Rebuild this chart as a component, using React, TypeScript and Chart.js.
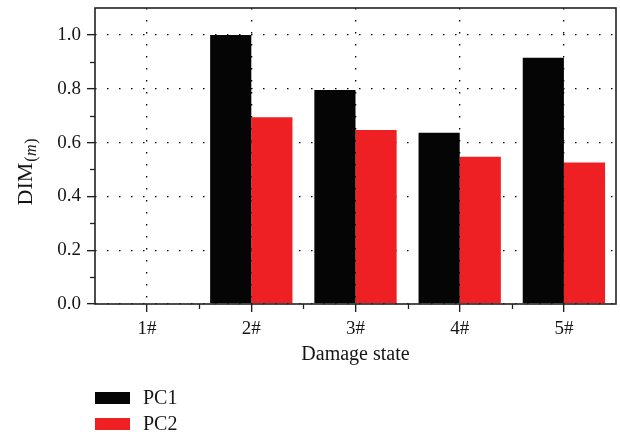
import React, { useEffect, useRef } from "react";
import { Chart, registerables } from "chart.js";

Chart.register(...registerables);

const categories = ["1#", "2#", "3#", "4#", "5#"];
const seriesNames = ["PC1", "PC2"];
const pc1Values = [0, 1.0, 0.795, 0.636, 0.915];
const pc2Values = [0, 0.694, 0.647, 0.547, 0.526];
const seriesColors = ["#050505", "#ee2024"];
const yMinorTicks = [0.1, 0.3, 0.5, 0.7, 0.9];
const yMin = 0;
const yMax = 1.1;
const yStep = 0.2;
const xTitle = "Damage state";
const yTitleMain = "DIM";
const yTitleSub = "m";

const FAMILY = '"Liberation Serif", "Times New Roman", serif';
const TEXT = "#151515";
const FRAME = "#222222";

const decorPlugin = {
  id: "decor",
  afterDatasetsDraw(chart: any) {
    const { ctx, chartArea } = chart;
    const { left, right, top, bottom } = chartArea;
    ctx.save();
    ctx.strokeStyle = FRAME;
    ctx.lineWidth = 1.6;
    ctx.setLineDash([]);
    ctx.strokeRect(left, top, right - left, bottom - top);
    ctx.restore();
  },
  afterDraw(chart: any) {
    const { ctx, chartArea } = chart;
    const xs = chart.scales.x;
    const ys = chart.scales.y;
    ctx.save();
    ctx.strokeStyle = FRAME;
    ctx.lineWidth = 1.3;
    ctx.setLineDash([]);
    yMinorTicks.forEach((v) => {
      const py = Math.round(ys.getPixelForValue(v)) + 0.5;
      ctx.beginPath();
      ctx.moveTo(chartArea.left - 5, py);
      ctx.lineTo(chartArea.left, py);
      ctx.stroke();
    });
    for (let i = 1; i < categories.length; i++) {
      const px = (xs.getPixelForValue(i - 1) + xs.getPixelForValue(i)) / 2;
      const rx = Math.round(px) + 0.5;
      ctx.beginPath();
      ctx.moveTo(rx, chartArea.bottom);
      ctx.lineTo(rx, chartArea.bottom + 5);
      ctx.stroke();
    }
    ctx.fillStyle = TEXT;
    ctx.translate(32, 172);
    ctx.rotate(-Math.PI / 2);
    const mainFont = `22px ${FAMILY}`;
    const subFont = `16px ${FAMILY}`;
    const subItalic = `italic 16px ${FAMILY}`;
    ctx.font = mainFont;
    const wMain = ctx.measureText(yTitleMain).width;
    ctx.font = subFont;
    const wPar = ctx.measureText("(").width;
    const wPar2 = ctx.measureText(")").width;
    ctx.font = subItalic;
    const wSub = ctx.measureText(yTitleSub).width;
    const total = wMain + wPar + wSub + wPar2 + 2;
    let x = -total / 2;
    ctx.textBaseline = "alphabetic";
    ctx.textAlign = "left";
    ctx.font = mainFont;
    ctx.fillText(yTitleMain, x, 0);
    x += wMain + 1;
    ctx.font = subFont;
    ctx.fillText("(", x, 4);
    x += wPar + 0.5;
    ctx.font = subItalic;
    ctx.fillText(yTitleSub, x, 4);
    x += wSub + 0.5;
    ctx.font = subFont;
    ctx.fillText(")", x, 4);
    ctx.restore();

    ctx.save();
    ctx.font = `20px ${FAMILY}`;
    ctx.textBaseline = "middle";
    ctx.textAlign = "left";
    chart.data.datasets.forEach((ds: any, i: number) => {
      const boxY = 392 + i * 26;
      ctx.fillStyle = ds.backgroundColor;
      ctx.fillRect(95, boxY, 35, 12);
      ctx.fillStyle = TEXT;
      ctx.fillText(ds.label, 143, boxY + 7);
    });
    ctx.restore();
  },
};

export default function App() {
  const canvasRef = useRef<HTMLCanvasElement | null>(null);

  useEffect(() => {
    const canvas = canvasRef.current;
    if (!canvas) return;
    const tickFont = { family: FAMILY, size: 19 };
    const chart = new Chart(canvas, {
      type: "bar",
      data: {
        labels: categories,
        datasets: [
          {
            label: seriesNames[0],
            data: pc1Values,
            backgroundColor: seriesColors[0],
            borderWidth: 0,
            barPercentage: 1,
            categoryPercentage: 0.79,
          },
          {
            label: seriesNames[1],
            data: pc2Values,
            backgroundColor: seriesColors[1],
            borderWidth: 0,
            barPercentage: 1,
            categoryPercentage: 0.79,
          },
        ],
      },
      options: {
        responsive: false,
        animation: false,
        layout: { padding: { left: 0, right: 4, top: 8, bottom: 62 } },
        plugins: {
          legend: { display: false },
          tooltip: { enabled: false },
        },
        scales: {
          x: {
            offset: true,
            grid: {
              offset: false,
              color: "#000",
              lineWidth: 1.3,
              drawTicks: true,
              tickLength: 8,
              tickColor: FRAME,
              tickWidth: 1.4,
              tickBorderDash: [],
            },
            border: { display: false, dash: [1.5, 10.5] },
            ticks: { font: tickFont, color: TEXT, padding: 6 },
            title: {
              display: true,
              text: xTitle,
              font: { family: FAMILY, size: 20 },
              color: TEXT,
              padding: { top: 0, bottom: 7 },
            },
            afterFit: (s: any) => {
              s.height = 70;
            },
          },
          y: {
            min: yMin,
            max: yMax,
            grid: {
              color: "#000",
              lineWidth: 1.3,
              drawTicks: true,
              tickLength: 8,
              tickColor: FRAME,
              tickWidth: 1.4,
              tickBorderDash: [],
            },
            border: { display: false, dash: [1.5, 10.5] },
            ticks: {
              stepSize: yStep,
              includeBounds: false,
              font: tickFont,
              color: TEXT,
              padding: 6,
              callback: (v: any) => Number(v).toFixed(1),
            },
            afterFit: (s: any) => {
              s.width = 95;
              s.paddingTop = 0;
              s.paddingBottom = 0;
            },
          },
        },
      },
      plugins: [decorPlugin],
    });
    return () => chart.destroy();
  }, []);

  return (
    <div style={{ position: "absolute", left: 0, top: 0, width: 620, height: 436, background: "#fff" }}>
      <canvas ref={canvasRef} width={620} height={436} style={{ display: "block" }} />
    </div>
  );
}
